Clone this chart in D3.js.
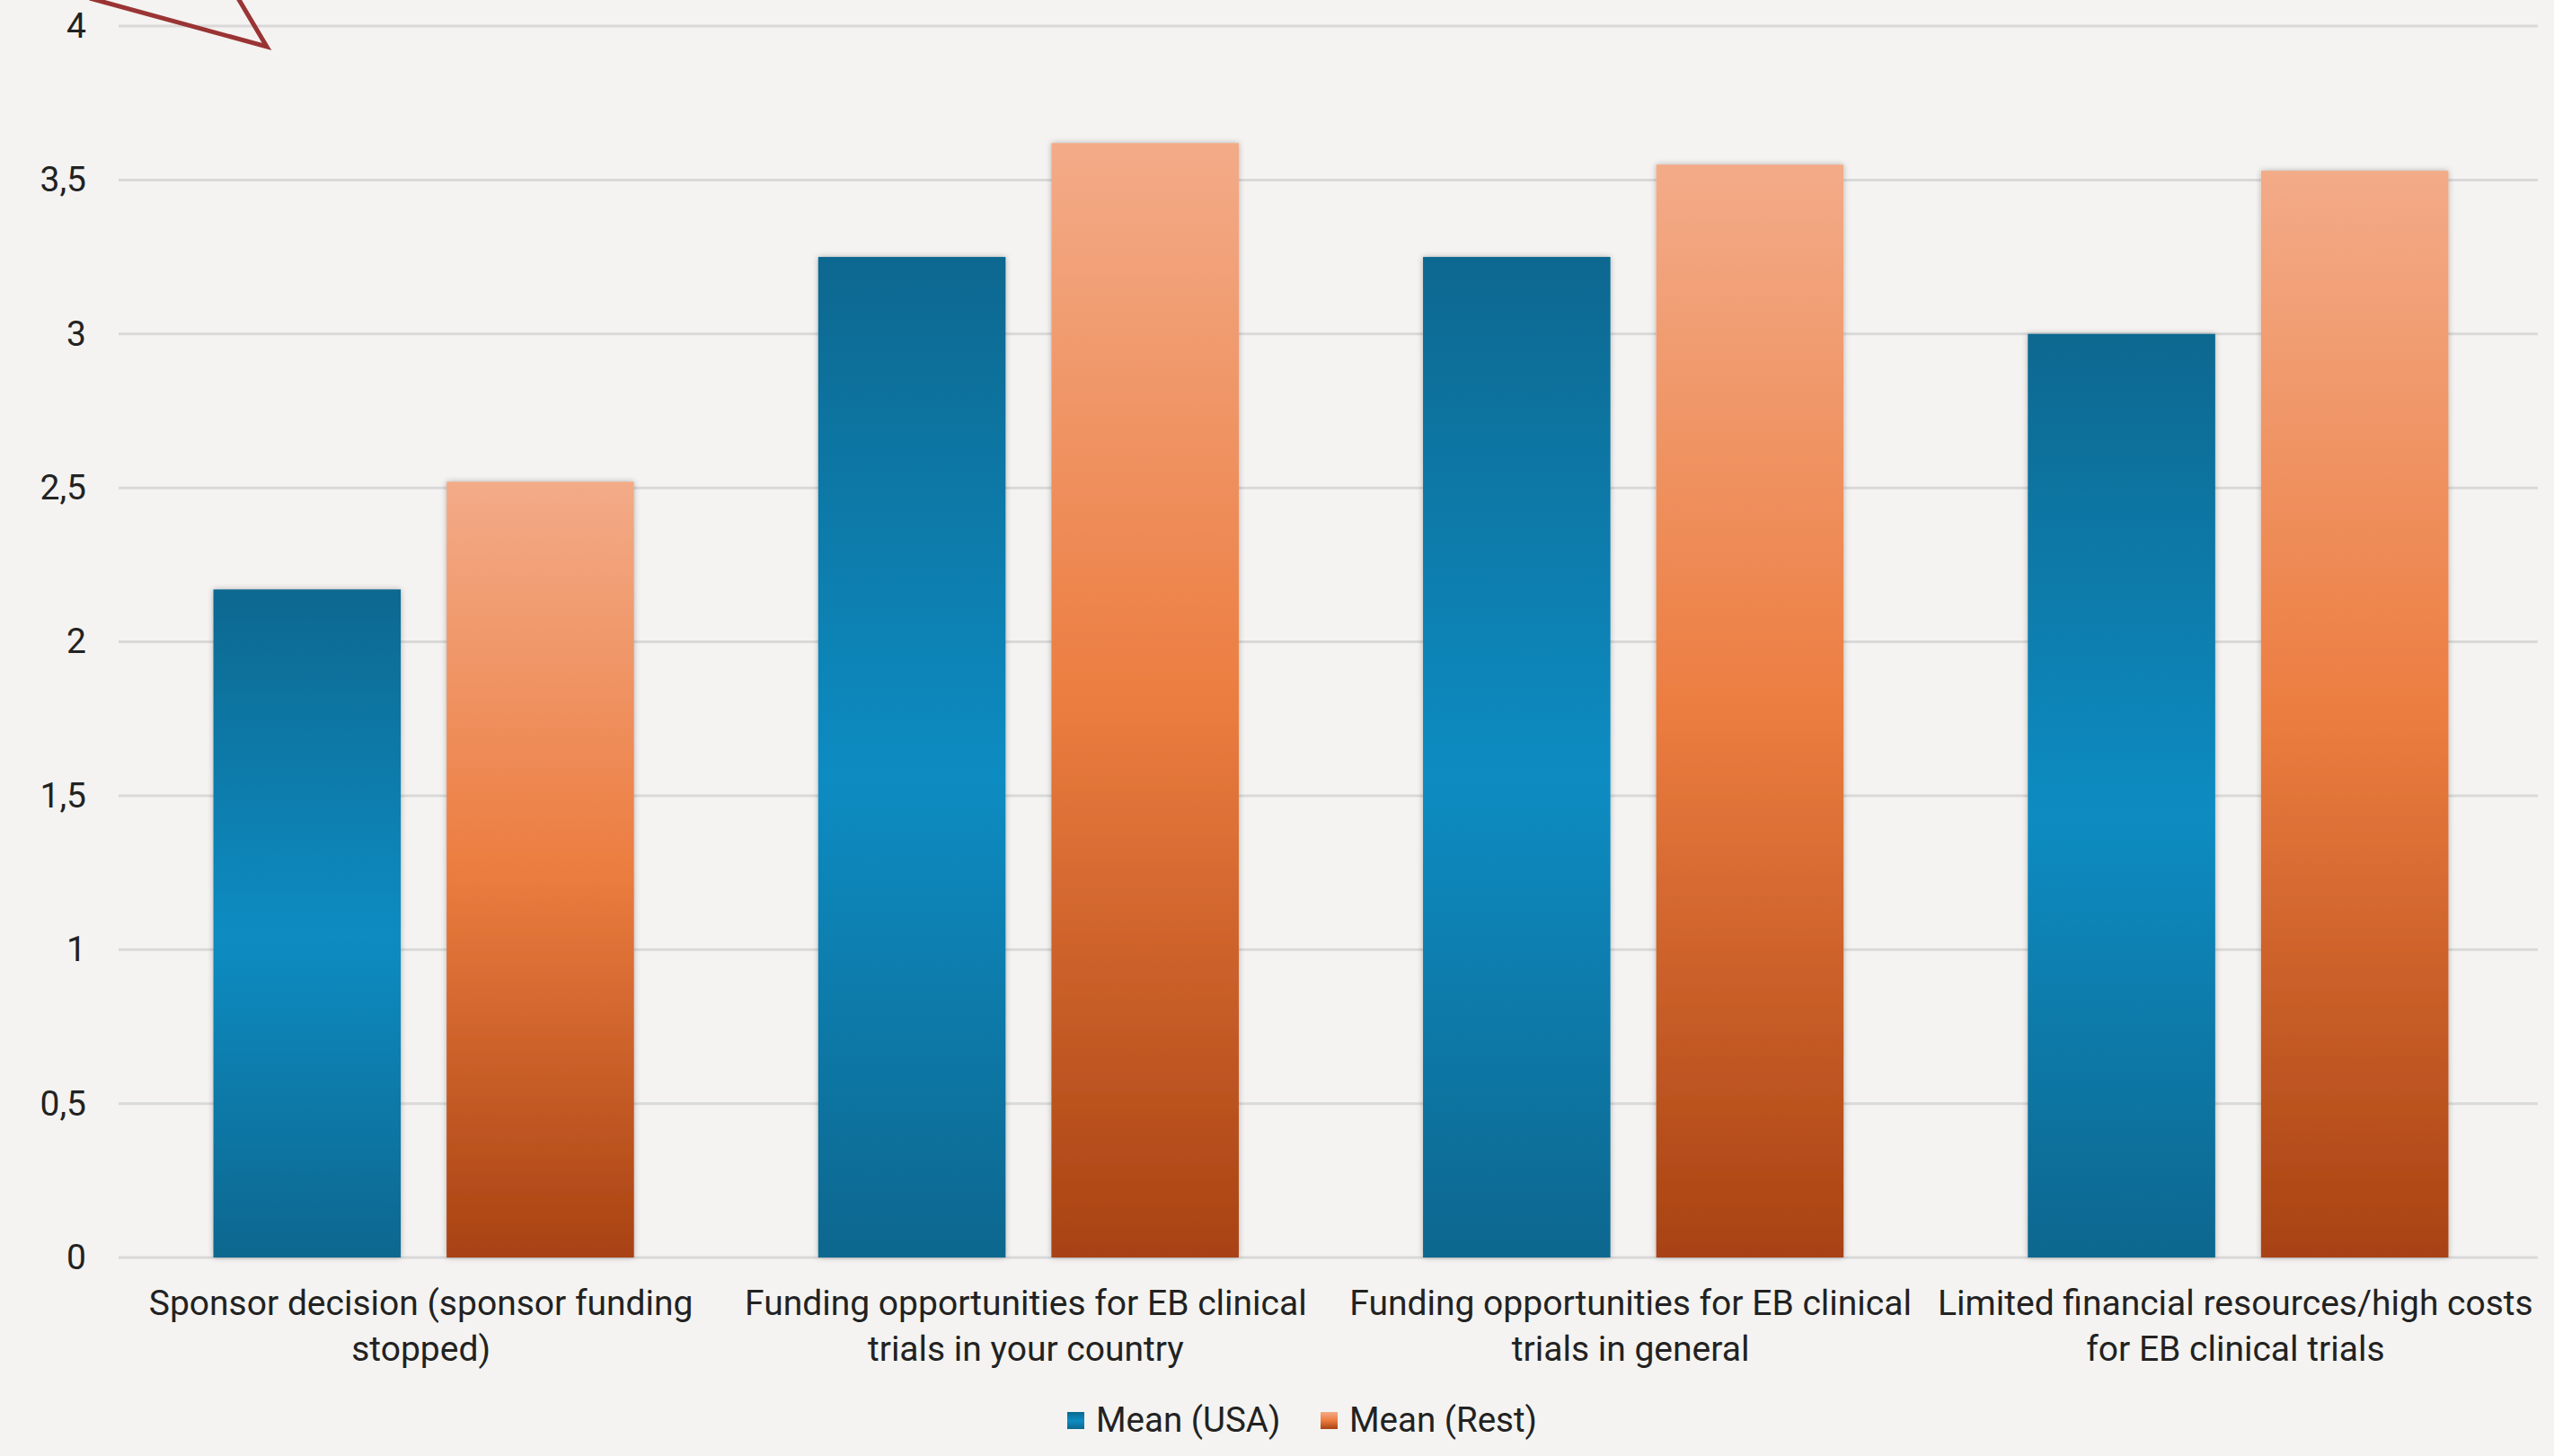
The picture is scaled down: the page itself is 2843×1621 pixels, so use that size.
<!DOCTYPE html>
<html>
<head>
<meta charset="utf-8">
<script src="https://cdn.jsdelivr.net/npm/d3@7"></script>
<style>
  html, body { margin: 0; padding: 0; background: #f4f3f1; }
  svg { display: block; }
</style>
</head>
<body>
<div id="chart"></div>
<script>
// data
const categories = [
    "Sponsor decision (sponsor funding\nstopped)",
    "Funding opportunities for EB clinical\ntrials in your country",
    "Funding opportunities for EB clinical\ntrials in general",
    "Limited financial resources/high costs\nfor EB clinical trials"
];
const seriesNames = ["Mean (USA)", "Mean (Rest)"];
const meanUSA = [2.17, 3.25, 3.25, 3.0];
const meanRest = [2.52, 3.62, 3.55, 3.53];
const yTicks = [0, 0.5, 1, 1.5, 2, 2.5, 3, 3.5, 4];

const W = 2843, H = 1621;
const margin = { top: 29, right: 18, bottom: 221, left: 132 };
const width = W - margin.left - margin.right,
    height = H - margin.top - margin.bottom;

const svg = d3.select("#chart")
    .append("svg")
    .attr("width", W)
    .attr("height", H);

svg.append("rect").attr("width", W).attr("height", H).attr("fill", "#f4f3f1");

const defs = svg.append("defs");

// gradients, one per series
const gradStops = {
    usa: [[0, "#0a6890"], [0.52, "#0e8cc2"], [1, "#0b678f"]],
    rest: [[0, "#f3ab88"], [0.5, "#ec7d40"], [1, "#a84212"]]
};
Object.entries(gradStops).forEach(([id, stops]) => {
    const g = defs.append("linearGradient")
        .attr("id", "grad-" + id)
        .attr("x1", 0).attr("y1", 0).attr("x2", 0).attr("y2", 1);
    stops.forEach(s => g.append("stop").attr("offset", s[0]).attr("stop-color", s[1]));
});

const shadow = defs.append("filter").attr("id", "shadow")
    .attr("x", "-10%").attr("y", "-5%").attr("width", "120%").attr("height", "110%");
shadow.append("feDropShadow")
    .attr("dx", 0).attr("dy", 0).attr("stdDeviation", 3)
    .attr("flood-color", "#000").attr("flood-opacity", 0.28);

const g = svg.append("g")
    .attr("transform", `translate(${margin.left},${margin.top})`);

// scales
const x = d3.scaleBand()
    .domain(categories)
    .range([0, width])
    .padding(0);

const xSub = d3.scaleBand()
    .domain(seriesNames)
    .range([3, x.bandwidth() + 3])
    .paddingInner(0.1965)
    .paddingOuter(0.395);

const y = d3.scaleLinear()
    .domain([0, 4])
    .range([height, 0]);

// gridlines
g.append("g")
    .selectAll("line")
    .data(yTicks)
    .join("line")
    .attr("x1", 0)
    .attr("x2", width)
    .attr("y1", d => y(d))
    .attr("y2", d => y(d))
    .attr("stroke", "#d9d9d9")
    .attr("stroke-width", 3);

// Y axis labels
const yAxis = g.append("g")
    .attr("transform", `translate(-36,0)`)
    .call(d3.axisLeft(y).tickValues(yTicks).tickSize(0).tickPadding(0)
        .tickFormat(d => String(d).replace(".", ",")));
yAxis.select(".domain").remove();
yAxis.selectAll("text")
    .attr("font-family", "Roboto, 'Noto Sans', sans-serif")
    .attr("font-size", 39)
    .attr("fill", "#222");

// bars
const rows = categories.map((c, i) => ({ cat: c, values: [meanUSA[i], meanRest[i]] }));
const gradIds = ["url(#grad-usa)", "url(#grad-rest)"];

g.append("g")
    .selectAll("g")
    .data(rows)
    .join("g")
    .attr("transform", d => `translate(${x(d.cat)},0)`)
    .selectAll("rect")
    .data(d => d.values.map((v, j) => ({ key: seriesNames[j], value: v, j: j })))
    .join("rect")
    .attr("x", d => xSub(d.key))
    .attr("y", d => y(d.value))
    .attr("width", xSub.bandwidth())
    .attr("height", d => y(0) - y(d.value))
    .attr("fill", d => gradIds[d.j])
    .attr("filter", "url(#shadow)");

// X axis labels (two lines each)
const xLabels = g.append("g")
    .attr("transform", `translate(0,${height})`)
    .selectAll("text")
    .data(categories)
    .join("text")
    .attr("x", d => x(d) + x.bandwidth() / 2)
    .attr("y", 0)
    .attr("text-anchor", "middle")
    .attr("font-family", "Roboto, 'Noto Sans', sans-serif")
    .attr("font-size", 39)
    .attr("fill", "#222");
xLabels.selectAll("tspan")
    .data(d => d.split("\n"))
    .join("tspan")
    .attr("x", function() { return d3.select(this.parentNode).attr("x"); })
    .attr("y", (d, i) => 64 + i * 51)
    .text(d => d);

// legend
const legendItems = [
    { name: seriesNames[0], fill: gradIds[0], x: 1188 },
    { name: seriesNames[1], fill: gradIds[1], x: 1470 }
];
const legend = svg.append("g");
legend.selectAll("rect")
    .data(legendItems)
    .join("rect")
    .attr("x", d => d.x)
    .attr("y", 1572)
    .attr("width", 19)
    .attr("height", 19)
    .attr("fill", d => d.fill);
legend.selectAll("text")
    .data(legendItems)
    .join("text")
    .attr("x", d => d.x + 32)
    .attr("y", 1594)
    .attr("font-family", "Roboto, 'Noto Sans', sans-serif")
    .attr("font-size", 38.5)
    .attr("fill", "#222")
    .text(d => d.name);

// callout arrow tip poking in from the top left
svg.append("path")
    .attr("d", "M100,-2 L297,52 L265,-2")
    .attr("fill", "none")
    .attr("stroke", "#9a3434")
    .attr("stroke-width", 5)
    .attr("stroke-linejoin", "miter");
</script>
</body>
</html>
